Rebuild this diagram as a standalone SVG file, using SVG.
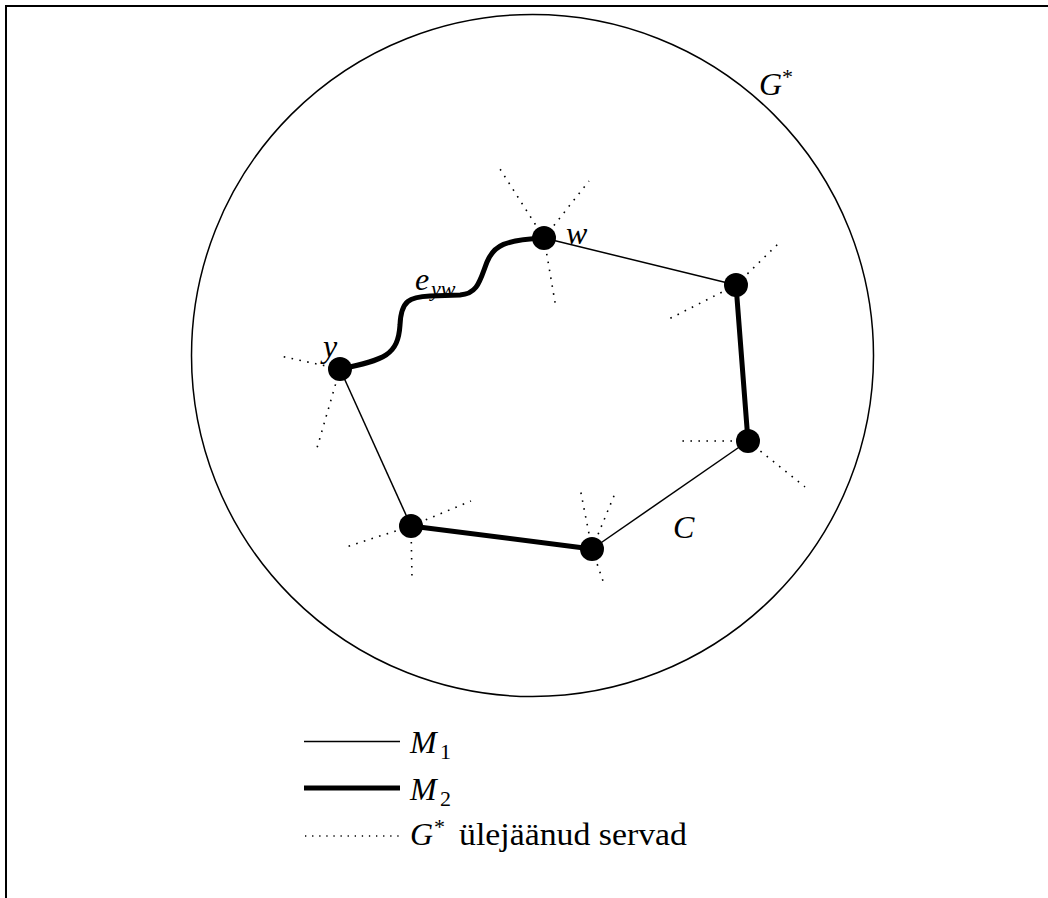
<svg xmlns="http://www.w3.org/2000/svg" width="1048" height="898" viewBox="0 0 1048 898">
<style>
.thin{stroke:#000;stroke-width:1.5;fill:none}
.thick{stroke:#000;stroke-width:5;fill:none;stroke-linecap:round}
.dot{stroke:#000;stroke-width:1.6;fill:none;stroke-dasharray:1.6 6.4}
.node{fill:#000}
.m{font-family:"Liberation Serif",serif;font-style:italic;font-size:32px;fill:#000}
.r{font-family:"Liberation Serif",serif;font-size:32px;fill:#000}
.s{font-family:"Liberation Serif",serif;font-size:22px;fill:#000}
</style>
<g id="frame">
<line x1="6" y1="6" x2="1048" y2="6" stroke="#000" stroke-width="2"/>
<line x1="6" y1="5" x2="6" y2="898" stroke="#000" stroke-width="2"/>
</g>
<g id="gstar">
<circle cx="532.5" cy="355.5" r="341" class="thin"/>
<text x="759" y="95" class="m">G</text><text x="782" y="84" class="s">*</text>
</g>
<g id="connectors">
<line x1="544" y1="238" x2="736" y2="285" class="thin"/>
<line x1="736" y1="285" x2="748" y2="441" class="thick"/>
<line x1="748" y1="441" x2="592" y2="549" class="thin"/>
<line x1="592" y1="549" x2="411" y2="526" class="thick"/>
<line x1="411" y1="526" x2="340" y2="369" class="thin"/>
<path d="M340,369 C385,360 398,355 400,325 C401,300 410,297 430,296 L460,295 C478,294 480,280 487,262 C494,245 505,240 544,238" class="thick"/>
<g id="dotted">
<line x1="544" y1="238" x2="500" y2="169" class="dot"/>
<line x1="544" y1="238" x2="589" y2="181" class="dot"/>
<line x1="544" y1="238" x2="556" y2="308" class="dot"/>
<line x1="736" y1="285" x2="781" y2="241" class="dot"/>
<line x1="736" y1="285" x2="665" y2="321" class="dot"/>
<line x1="748" y1="441" x2="676" y2="441" class="dot"/>
<line x1="748" y1="441" x2="805" y2="487" class="dot"/>
<line x1="592" y1="549" x2="580" y2="488" class="dot"/>
<line x1="592" y1="549" x2="616" y2="491" class="dot"/>
<line x1="592" y1="549" x2="603" y2="581" class="dot"/>
<line x1="411" y1="526" x2="471" y2="501" class="dot"/>
<line x1="411" y1="526" x2="343" y2="548" class="dot"/>
<line x1="411" y1="526" x2="412" y2="578" class="dot"/>
<line x1="340" y1="369" x2="280" y2="356" class="dot"/>
<line x1="340" y1="369" x2="317" y2="448" class="dot"/>
</g>
</g>
<g id="node-w"><circle cx="544" cy="238" r="12" class="node"/><text x="566" y="244" class="m">w</text></g>
<g id="node-r1"><circle cx="736" cy="285" r="12" class="node"/></g>
<g id="node-r2"><circle cx="748" cy="441" r="12" class="node"/></g>
<g id="node-b1"><circle cx="592" cy="549" r="12" class="node"/></g>
<g id="node-b2"><circle cx="411" cy="526" r="12" class="node"/></g>
<g id="node-y"><circle cx="340" cy="369" r="12" class="node"/><text x="323" y="357" class="m">y</text></g>
<g id="label-eyw"><text x="415" y="290" class="m">e</text><text x="431" y="296" class="s" font-style="italic">yw</text></g>
<g id="label-C"><text x="673" y="538" class="m">C</text></g>
<g id="legend">
<line x1="304" y1="741.5" x2="400" y2="741.5" class="thin"/>
<text x="410" y="753" class="m">M</text><text x="440" y="759" class="s">1</text>
<line x1="304" y1="788" x2="400" y2="788" stroke="#000" stroke-width="5"/>
<text x="410" y="800" class="m">M</text><text x="440" y="806" class="s">2</text>
<line x1="305" y1="836" x2="400" y2="836" class="dot" style="stroke-width:1.3;stroke-dasharray:1.3 5.8"/>
<text x="410" y="845" class="m">G</text><text x="434" y="834" class="s">*</text>
<text x="459" y="845" class="r" textLength="228" lengthAdjust="spacingAndGlyphs">ülejäänud servad</text>
</g>
</svg>
